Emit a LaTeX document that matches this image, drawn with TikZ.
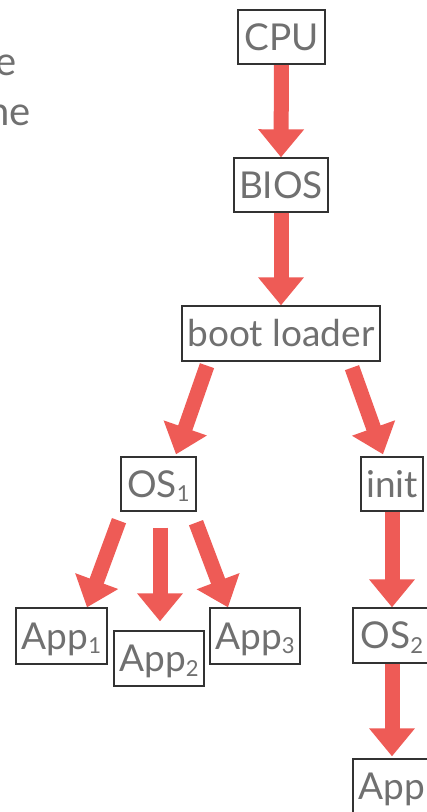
\documentclass[tikz,border=0pt]{standalone}
\usepackage{fontspec}
\setmainfont{Lato}
\usetikzlibrary{arrows.meta,backgrounds}
\definecolor{arrowred}{RGB}{238,91,86}
\definecolor{txtgray}{RGB}{112,112,112}
\definecolor{boxline}{RGB}{50,50,50}
\newcommand\lowdigit[1]{\raisebox{-4.5pt}{\fontsize{22}{22}\selectfont #1}}
\begin{document}
\begin{tikzpicture}[x=1pt,y=-1pt,
  box/.style={draw=boxline, line width=1.3pt, fill=white, text=txtgray,
    inner sep=0pt, font=\fontsize{37}{40}\selectfont,
    text height=27pt, text depth=1pt},
  flow/.style={draw=arrowred, line width=15pt,
    -{Triangle[width=44pt,length=28pt]}},
  fragment/.style={text=txtgray, inner sep=0pt, font=\fontsize{40}{44}\selectfont}]
\useasboundingbox (0,0) rectangle (427,812);
\clip (0,0) rectangle (427,812);
% fragments of cut-off text
\node[fragment, anchor=base east] (frag1) at (17,75) {e};
\node[fragment, anchor=base east] (frag2) at (31,125) {ne};
% boxes
\node[box, minimum width=87pt, minimum height=54pt] (cpu) at (281.5,37) {CPU};
\node[box, minimum width=94pt, minimum height=54pt] (bios) at (281,185) {BIOS};
\node[box, minimum width=198pt, minimum height=55pt] (boot) at (281,333.5) {boot loader};
\node[box, minimum width=75pt, minimum height=54pt] (os1) at (158.5,484) {OS\lowdigit{1}};
\node[box, minimum width=62pt, minimum height=54pt] (init) at (392,484) {init};
\node[box, minimum width=91pt, minimum height=56pt] (app1) at (61.5,636) {App\lowdigit{1}};
\node[box, minimum width=90pt, minimum height=55pt] (app2) at (159,658.5) {App\lowdigit{2}};
\node[box, minimum width=90pt, minimum height=56pt] (app3) at (255,636) {App\lowdigit{3}};
\node[box, minimum width=78pt, minimum height=55pt] (os2) at (392,635.5) {OS\lowdigit{2}};
\node[box, minimum width=78pt, minimum height=55pt] (app) at (392,786.5) {App};
% arrows
\begin{scope}[on background layer]
\draw[flow] (cpu.south) -- (bios.north);
\draw[flow] (bios.south) -- (boot.north);
\draw[flow] ([shift={(-74,4)}]boot.south) -- ([shift={(17.5,-2)}]os1.north);
\draw[flow] ([shift={(71,6)}]boot.south) -- ([shift={(-9,-2)}]init.north);
\draw[flow] (init.south) -- (os2.north);
\draw[flow] (os2.south) -- ([shift={(0,-2)}]app.north);
\draw[flow] ([shift={(-39.5,9)}]os1.south) -- ([shift={(25.5,0)}]app1.north);
\draw[flow] ([shift={(1.5,16)}]os1.south) -- ([shift={(1,-9)}]app2.north);
\draw[flow] ([shift={(37.5,11)}]os1.south) -- ([shift={(-27,0)}]app3.north);
\end{scope}
\end{tikzpicture}
\end{document}
